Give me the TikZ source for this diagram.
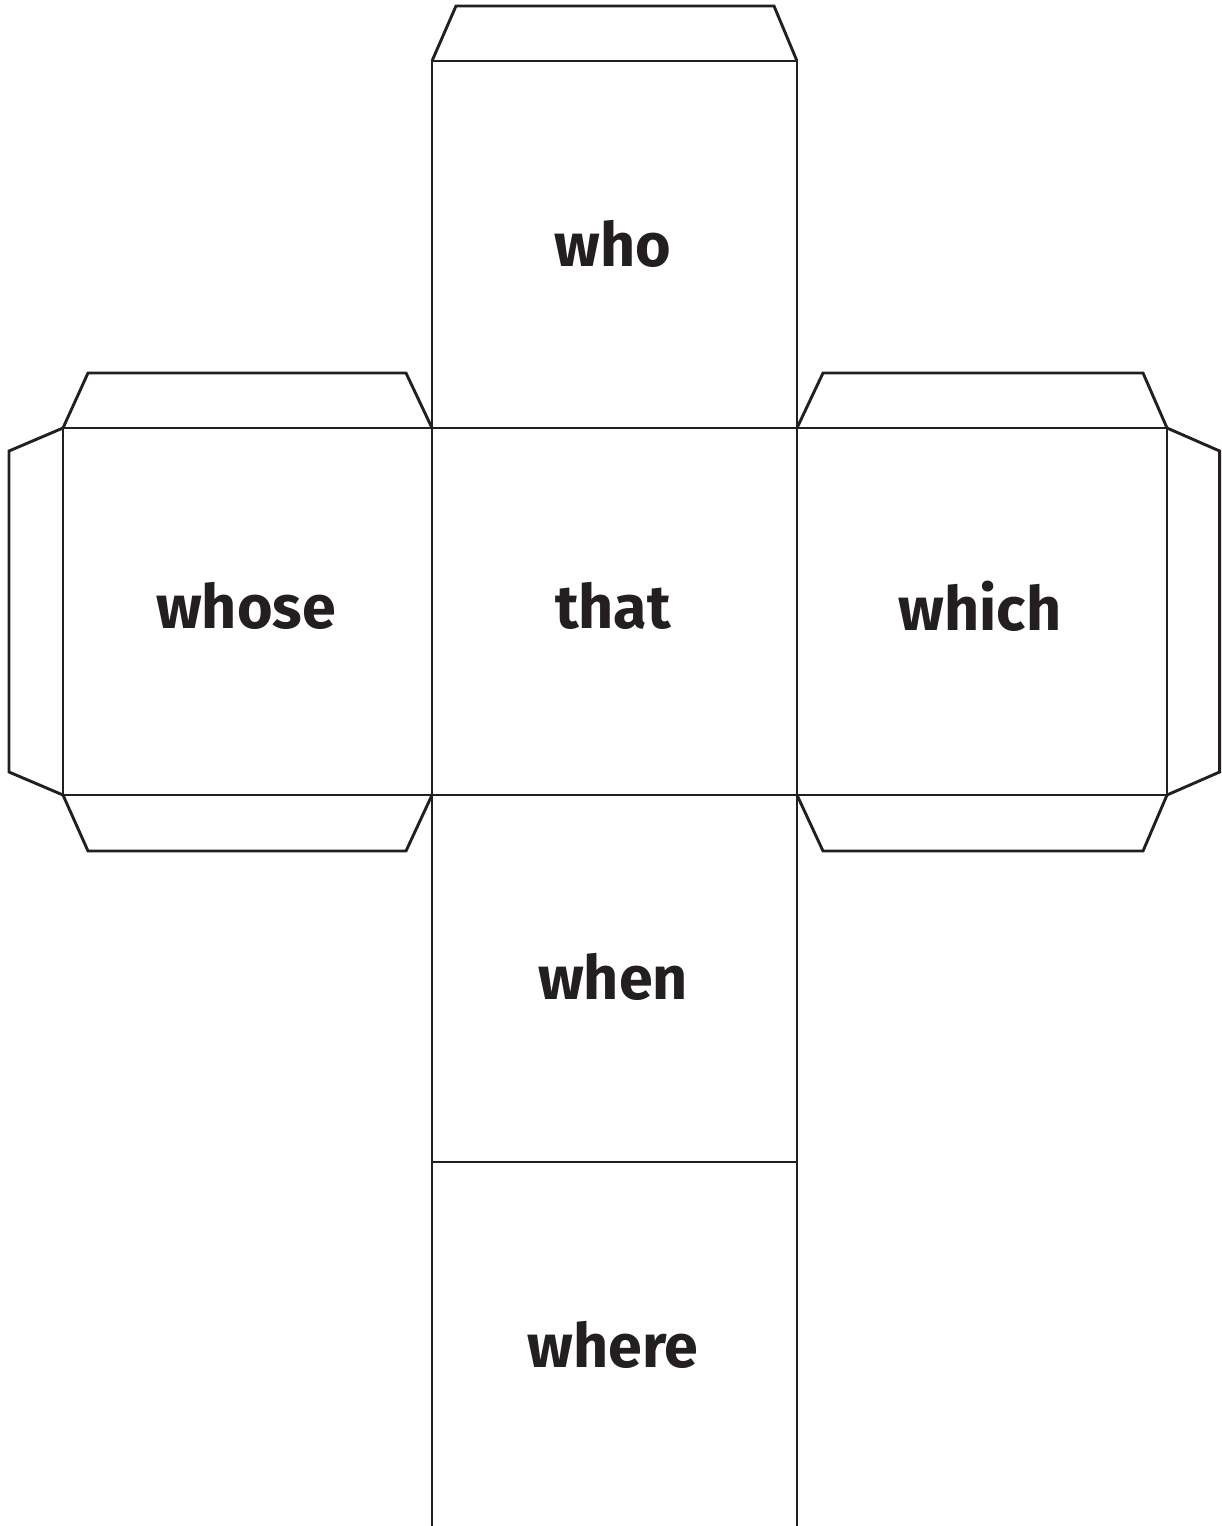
\documentclass[tikz,border=0pt]{standalone}
\usepackage{fontspec}
\setmainfont{Fira Sans}
\usepackage{tikz}
\usetikzlibrary{positioning}
\definecolor{inkdark}{HTML}{231F20}

\tikzset{
  net/.style={draw=inkdark,line width=2.9pt,line join=miter},
  word/.style={font=\fontsize{61}{64}\selectfont\bfseries,text=inkdark,inner sep=0pt}
}

\begin{document}
\begin{tikzpicture}[x=1pt,y=-1pt]
  \useasboundingbox (0,0) rectangle (1221,1526);

  % Centre column
  \draw[net] (432,61) -- (432,1526);
  \draw[net] (797,61) -- (797,1526);
  \foreach \y in {61,428,795,1162}
    \draw[net] (432,\y) -- (797,\y);
  \draw[net] (432,61) -- (456,6) -- (774,6) -- (797,61);

  % Left face and its tabs
  \draw[net] (63,428) rectangle (432,795);
  \draw[net] (63,428) -- (88,373) -- (406,373) -- (432,428);
  \draw[net] (63,795) -- (88,851) -- (406,851) -- (432,795);
  \draw[net] (63,428) -- (9,451) -- (9,772) -- (63,795);

  % Right face and its tabs
  \draw[net] (797,428) rectangle (1167,795);
  \draw[net] (797,428) -- (823,373) -- (1143,373) -- (1167,428);
  \draw[net] (797,795) -- (823,851) -- (1143,851) -- (1167,795);
  \draw[net] (1167,428) -- (1219.6,451) -- (1219.6,772) -- (1167,795);

  % Words
  \node[word] (who)   at (613,244)  {who};
  \node[word] (that)  at (613,606)  {that};
  \node[word] (when)  at (613,977)  {when};
  \node[word] (where) at (613,1345) {where};
  \node[word] (whose) at (246,606)  {whose};
  \node[word] (which) at (980,606)  {which};
\end{tikzpicture}
\end{document}
